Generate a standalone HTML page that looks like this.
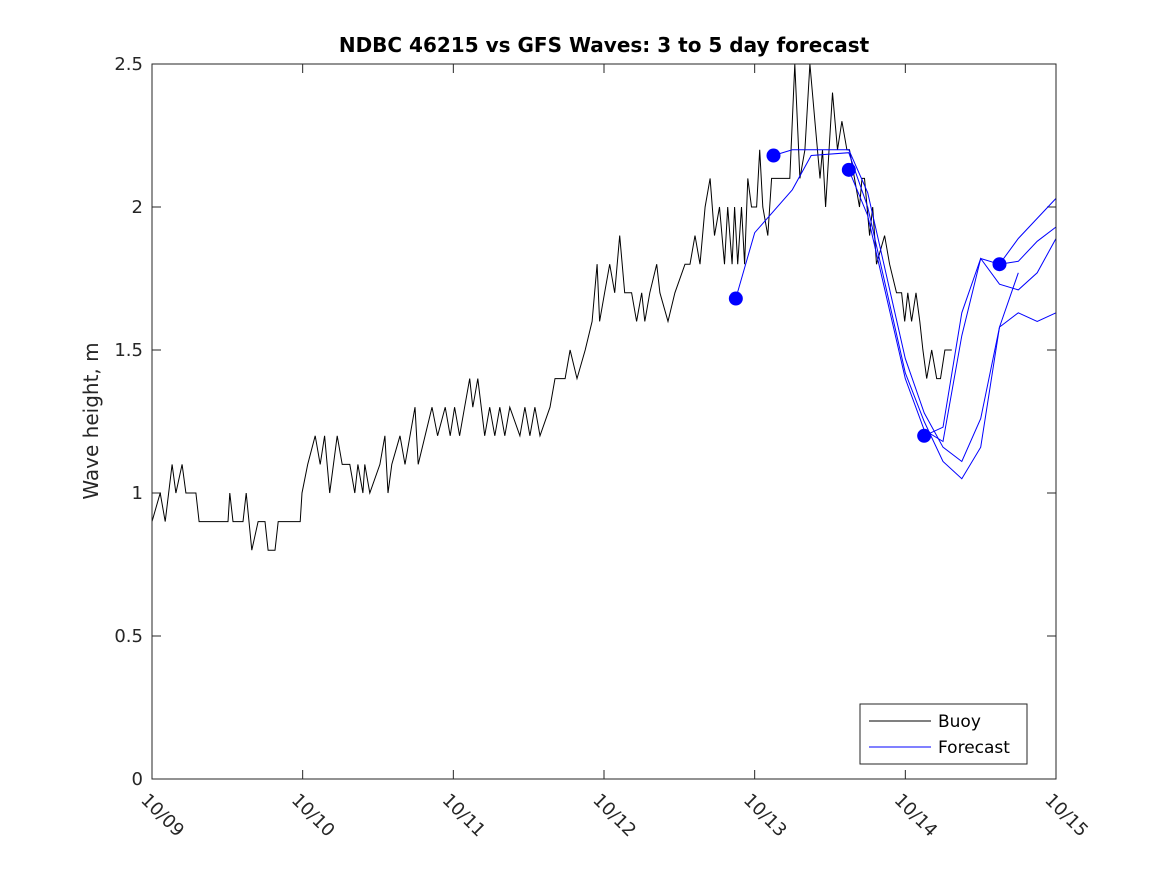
<!DOCTYPE html>
<html><head><meta charset="utf-8"><style>
body{margin:0;background:#fff;}
svg text{font-family:"DejaVu Sans","Liberation Sans",sans-serif;}
</style></head><body>
<svg id="chart" width="1167" height="875" xmlns="http://www.w3.org/2000/svg">
<rect width="1167" height="875" fill="#fff"/>
<text x="604" y="52" text-anchor="middle" font-size="20" font-weight="bold">NDBC 46215 vs GFS Waves: 3 to 5 day forecast</text>
<text transform="translate(98,421) rotate(-90)" text-anchor="middle" font-size="20" fill="#262626">Wave height, m</text>
<g id="grid"></g>
<g id="series"></g>
<rect x="152" y="64" width="904" height="715" fill="none" stroke="#262626" stroke-width="1"/>
<g>
<rect x="860" y="704" width="167" height="60" fill="#fff" stroke="#262626"/>
<line x1="869" y1="721" x2="931" y2="721" stroke="#000"/>
<text x="938" y="727" font-size="17">Buoy</text>
<line x1="869" y1="747" x2="931" y2="747" stroke="#0000ff"/>
<text x="938" y="753" font-size="17">Forecast</text>
</g>
</svg>
<script>
const xTickLabels=["10/09","10/10","10/11","10/12","10/13","10/14","10/15"];
const yTicks=[0,0.5,1,1.5,2,2.5];
const buoyHours=[0,1.3,2.1,3.2,3.8,4.8,5.4,7,7.5,12.1,12.4,12.9,14.5,15,15.9,16.9,18,18.5,19.6,20.1,23.6,23.9,24.8,26,26.8,27.5,28.3,29.5,30.3,31.5,32.3,32.8,33.6,33.9,34.7,36.3,37.1,37.6,38.2,39.5,40.3,41.1,41.9,42.4,43.5,44.6,45.5,46.7,47.5,48.2,49,49.8,50.6,51.1,51.9,53,53.8,54.6,55.4,56.2,57,58.6,59.4,60.2,61,61.8,63.4,64.2,65.8,66.6,67.7,69,70.1,70.9,71.3,72.1,72.9,73.7,74.5,75.3,76.4,77.2,78,78.5,79.3,80.4,80.9,82.2,83.3,84.9,85.7,86.5,87.3,88.1,88.9,89.6,90.4,91.2,91.7,92.4,92.8,93.3,93.9,94.4,94.9,95.5,96.3,96.8,97.3,98.1,98.7,101.6,102.4,103.2,104,104.8,105.6,106.4,106.8,107.3,108.4,109.2,109.9,110.7,111.1,111.9,112.7,113.1,113.5,114.3,114.8,115.4,116.7,117.5,118.6,119.4,119.9,120.4,121,121.7,122.3,122.8,123.4,124.2,125,125.6,126.3,127.4];
const buoyValues=[0.9,1.0,0.9,1.1,1.0,1.1,1.0,1.0,0.9,0.9,1.0,0.9,0.9,1.0,0.8,0.9,0.9,0.8,0.8,0.9,0.9,1.0,1.1,1.2,1.1,1.2,1.0,1.2,1.1,1.1,1.0,1.1,1.0,1.1,1.0,1.1,1.2,1.0,1.1,1.2,1.1,1.2,1.3,1.1,1.2,1.3,1.2,1.3,1.2,1.3,1.2,1.3,1.4,1.3,1.4,1.2,1.3,1.2,1.3,1.2,1.3,1.2,1.3,1.2,1.3,1.2,1.3,1.4,1.4,1.5,1.4,1.5,1.6,1.8,1.6,1.7,1.8,1.7,1.9,1.7,1.7,1.6,1.7,1.6,1.7,1.8,1.7,1.6,1.7,1.8,1.8,1.9,1.8,2.0,2.1,1.9,2.0,1.8,2.0,1.8,2.0,1.8,2.0,1.8,2.1,2.0,2.0,2.2,2.0,1.9,2.1,2.1,2.5,2.1,2.2,2.5,2.3,2.1,2.2,2.0,2.4,2.2,2.3,2.2,2.2,2.1,2.0,2.1,2.1,1.9,2.0,1.8,1.9,1.8,1.7,1.7,1.6,1.7,1.6,1.7,1.6,1.5,1.4,1.5,1.4,1.4,1.5,1.5];
const run1Days=[3.875,4.0,4.25,4.375,4.625,4.75,5.0,5.125,5.25,5.375,5.5,5.625,5.75,5.875,6.0];
const run1Values=[1.68,1.91,2.06,2.18,2.19,2.0,1.42,1.25,1.11,1.05,1.16,1.58,1.63,1.60,1.63];
const run2Days=[4.125,4.25,4.375,4.5,4.625,4.75,5.0,5.125,5.25,5.375,5.5,5.625,5.75];
const run2Values=[2.18,2.2,2.2,2.2,2.2,2.05,1.47,1.28,1.16,1.11,1.26,1.58,1.77];
const run3Days=[4.625,4.75,5.0,5.125,5.25,5.375,5.5,5.625,5.75,5.875,6.0];
const run3Values=[2.13,1.97,1.4,1.22,1.18,1.55,1.82,1.73,1.71,1.77,1.89];
const run4Days=[5.125,5.25,5.375,5.5,5.625,5.75,5.875,6.0];
const run4Values=[1.2,1.23,1.63,1.82,1.8,1.89,1.96,2.03];
const run5Days=[5.625,5.75,5.875,6.0];
const run5Values=[1.8,1.81,1.88,1.93];

const X0=152,X1=1056,Y0=779,Y1=64;
const xS=d=>X0+(X1-X0)*d/6;
const yS=v=>Y0-(Y0-Y1)*v/2.5;
const NS="http://www.w3.org/2000/svg";
const grid=document.getElementById('grid'),series=document.getElementById('series');
function mk(tag,attrs,parent){const e=document.createElementNS(NS,tag);for(const k in attrs)e.setAttribute(k,attrs[k]);parent.appendChild(e);return e;}
xTickLabels.forEach((lab,i)=>{
  const x=xS(i);
  const t1=mk('line',{x1:x,y1:Y0,x2:x,y2:Y0-9,stroke:'#262626'},grid);
  
  
  const t2=mk('line',{x1:x,y1:Y1,x2:x,y2:Y1+9,stroke:'#262626'},grid);
  
  
  const tx=mk('text',{transform:`translate(${x-12},${Y0+22}) rotate(45)`,'font-size':18,fill:'#262626'},grid);
  tx.textContent=lab;
  
  
});
yTicks.forEach(v=>{
  const y=yS(v);
  const t1=mk('line',{x1:X0,y1:y,x2:X0+9,y2:y,stroke:'#262626'},grid);
  
  
  const t2=mk('line',{x1:X1,y1:y,x2:X1-9,y2:y,stroke:'#262626'},grid);
  
  
  const tx=mk('text',{x:X0-9,y:y+6,'text-anchor':'end','font-size':18,fill:'#262626'},grid);
  tx.textContent=String(v);
  
  
});
const bp=buoyHours.map((h,i)=>xS(h/24).toFixed(1)+','+yS(buoyValues[i]).toFixed(1)).join(' ');
const bl=mk('polyline',{points:bp,fill:'none',stroke:'#000','stroke-width':1},series);


[[run1Days,run1Values],[run2Days,run2Values],[run3Days,run3Values],[run4Days,run4Values],[run5Days,run5Values]].forEach(([ds,vs],k)=>{
  const p=ds.map((d,i)=>xS(d).toFixed(1)+','+yS(vs[i]).toFixed(1)).join(' ');
  const l=mk('polyline',{points:p,fill:'none',stroke:'#0000ff','stroke-width':1},series);
  
  
  const c=mk('circle',{cx:xS(ds[0]),cy:yS(vs[0]),r:7,fill:'#0000ff'},series);
  
  
});
</script>
</body></html>
